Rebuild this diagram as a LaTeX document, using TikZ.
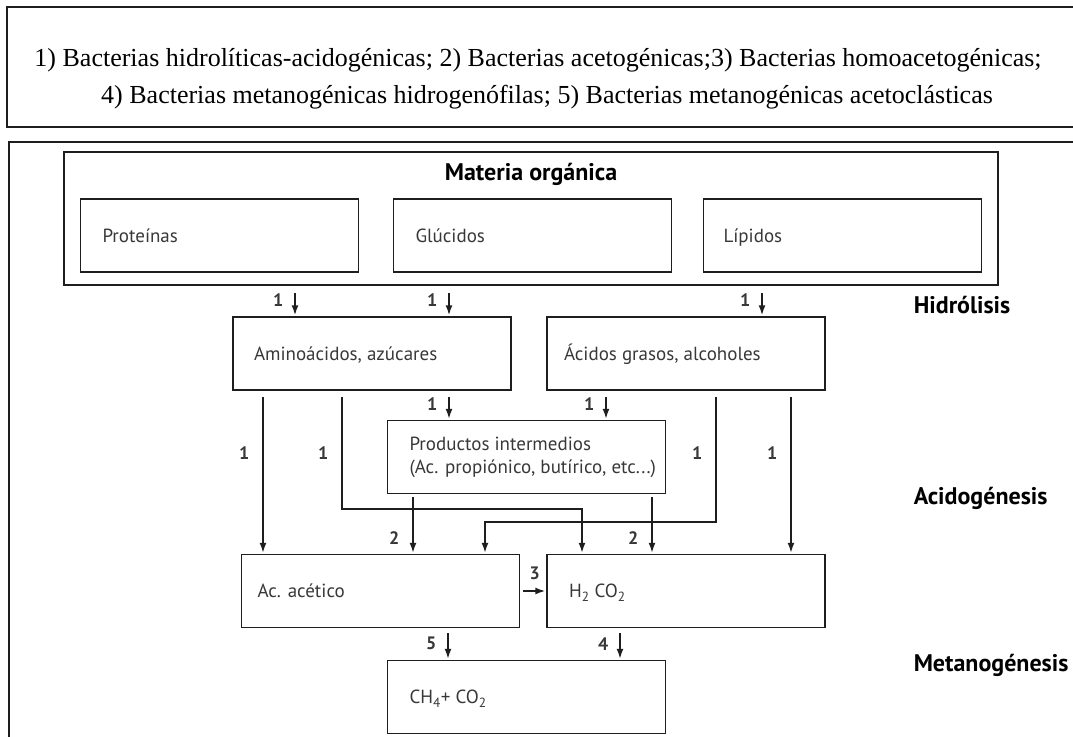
\documentclass[tikz,border=0pt]{standalone}
\usepackage{fontspec}
\setmainfont{Liberation Serif}
\newfontfamily\dinfont{PT Sans}
\usetikzlibrary{arrows.meta}
\definecolor{txtgray}{HTML}{383838}
\definecolor{linegray}{HTML}{1E1E1E}

\begin{document}
\begin{tikzpicture}[x=1pt,y=-1pt,line width=1.5pt,draw=linegray,
		box/.style={draw,rectangle,minimum width=278pt,minimum height=73pt},
		txt/.style={anchor=west,align=left,inner sep=0pt,yshift=-2pt,text=txtgray,font=\dinfont\fontsize{19}{23}\selectfont,
			execute at begin node=\strut},
		num/.style={inner sep=1pt,text=txtgray,font=\dinfont\bfseries\fontsize{18}{21}\selectfont},
		phase/.style={anchor=west,inner sep=0pt,font=\dinfont\bfseries\fontsize{24}{28}\selectfont},
		arr/.style={-{Latex[length=10pt,width=7pt]},shorten >=1pt},
		legend/.style={inner sep=0pt,font=\fontsize{26}{30}\selectfont}
		]
	\useasboundingbox (0,0) rectangle (1073,736);
	% legend and frames
	\draw (7,7) rectangle (1090,127);
	\node [legend] (leg1) at (538,60) {1) Bacterias hidrolíticas-acidogénicas; 2) Bacterias acetogénicas;3) Bacterias homoacetogénicas;};
	\node [legend] (leg2) at (547,97) {4) Bacterias metanogénicas hidrogenófilas; 5) Bacterias metanogénicas acetoclásticas};
	\draw (9,760) rectangle (1090,142);

	% materia organica
	\node [draw,minimum width=934pt,minimum height=133pt] (mo) at (531,218.5) {};
	\node [phase,anchor=center] (mot) at (531,174) {Materia orgánica};
	\node [box] (prot) at (219.5,235.5) {};
	\node [box] (gluc) at (532.5,235.5) {};
	\node [box] (lip) at (842.5,235.5) {};
	\node [txt] (protx) at ([xshift=22pt]prot.west) {Proteínas};
	\node [txt] (glucx) at ([xshift=22pt]gluc.west) {Glúcidos};
	\node [txt] (lipx) at ([xshift=20pt]lip.west) {Lípidos};

	\node [box] (amino) at (372,353.5) {};
	\node [box] (acgr) at (686,353.5) {};
	\node [box] (prod) at (526.5,457) {};
	\node [box] (acet) at (380.5,591) {};
	\node [box] (hco) at (686,591) {};
	\node [box] (ch4) at (526.5,697) {};
	\node [txt] (aminox) at ([xshift=21pt]amino.west) {Aminoácidos, azúcares};
	\node [txt] (acgrx) at ([xshift=17pt]acgr.west) {Ácidos grasos, alcoholes};
	\node [txt] (prodx) at ([xshift=22pt]prod.west) {Productos intermedios\\(Ac. propiónico, butírico, etc...)};
	\node [txt] (acetx) at ([xshift=16pt]acet.west) {Ac. acético};
	\node [txt] (hcox) at ([xshift=22pt]hco.west) {H\textsubscript{2} CO\textsubscript{2}};
	\node [txt] (ch4x) at ([xshift=22pt]ch4.west) {CH\textsubscript{4}+ CO\textsubscript{2}};

	\node [phase] (hid) at (913,305) {Hidrólisis};
	\node [phase] (aci) at (913,498) {Acidogénesis};
	\node [phase] (met) at (913,665) {Metanogénesis};

	% hidrolisis
	\coordinate (h1) at (295,293);
	\coordinate (h2) at (449,293);
	\coordinate (h3) at (762,293);
	\draw [arr] (h1) -- node [num,left=10pt,pos=0.3] (nh1) {1} (h1 |- amino.north);
	\draw [arr] (h2) -- node [num,left=10pt,pos=0.3] (nh2) {1} (h2 |- amino.north);
	\draw [arr] (h3) -- node [num,left=10pt,pos=0.3] (nh3) {1} (h3 |- acgr.north);

	% acidogenesis
	\coordinate (q1) at (449,397);
	\coordinate (q2) at (606,397);
	\draw [arr] (q1) -- node [num,left=10pt,pos=0.3] (nq1) {1} (q1 |- prod.north);
	\draw [arr] (q2) -- node [num,left=10pt,pos=0.3] (nq2) {1} (q2 |- prod.north);

	\coordinate (a1) at (263,397);
	\coordinate (a2) at (342,397);
	\coordinate (j2) at (582,509);
	\coordinate (g1) at (716,397);
	\coordinate (j1) at (485,522);
	\coordinate (g2) at (791,397);
	\draw [arr] (a1) -- node [num,left=12pt,pos=0.36] (na1) {1} (a1 |- acet.north);
	\draw [arr] (a2) -- node [num,left=12pt,pos=0.5] (na2) {1} (a2 |- j2) -- (j2) -- (j2 |- hco.north);
	\draw [arr] (g1) -- node [num,left=12pt,pos=0.45] (ng1) {1} (g1 |- j1) -- (j1) -- (j1 |- acet.north);
	\draw [arr] (g2) -- node [num,left=12pt,pos=0.36] (ng2) {1} (g2 |- hco.north);

	\coordinate (p1) at (413,497);
	\coordinate (p2) at (652,497);
	\draw [arr] (p1) -- node [num,left=12pt,pos=0.72] (np1) {2} (p1 |- acet.north);
	\draw [arr] (p2) -- node [num,left=12pt,pos=0.72] (np2) {2} (p2 |- hco.north);

	\draw [arr] ([xshift=3pt]acet.east) -- node [num,above=10pt] (n3) {3} (hco.west);

	% metanogenesis
	\coordinate (m1) at (448,633);
	\coordinate (m2) at (620,633);
	\draw [arr] (m1) -- node [num,left=10pt,pos=0.4] (n5) {5} (m1 |- ch4.north);
	\draw [arr] (m2) -- node [num,left=10pt,pos=0.4] (n4) {4} (m2 |- ch4.north);
\end{tikzpicture}
\end{document}
